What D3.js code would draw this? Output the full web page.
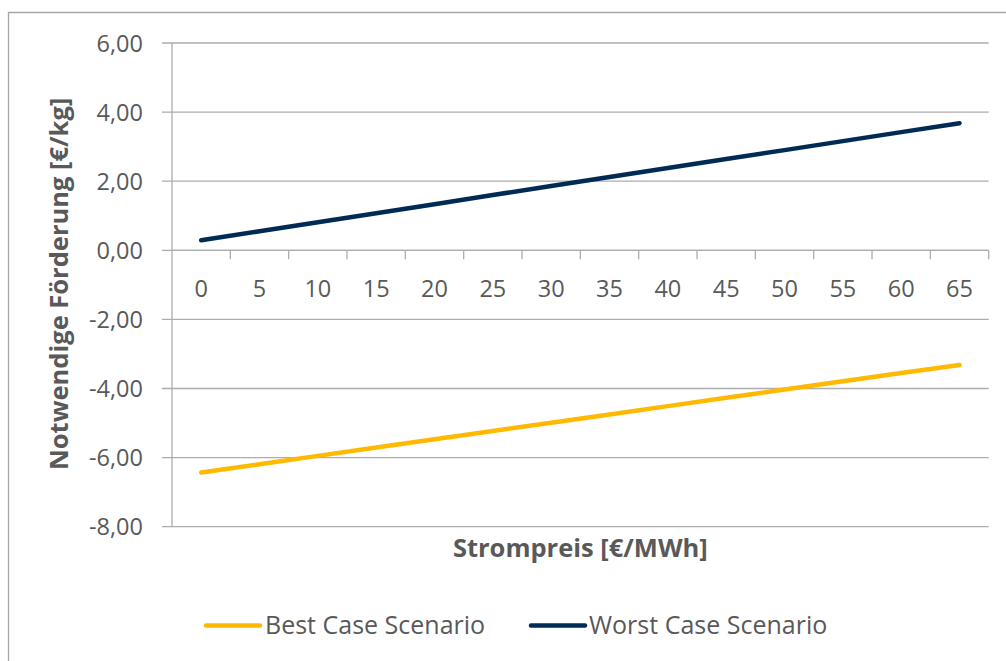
<!DOCTYPE html>
<html>
<head>
<meta charset="utf-8">
<script src="https://cdn.jsdelivr.net/npm/d3@7"></script>
<style>
  html, body { margin: 0; padding: 0; background: #fff; }
  svg { display: block; font-family: "Open Sans", "Noto Sans", sans-serif; }
</style>
</head>
<body>
<svg id="chart" width="1006" height="661"></svg>
<script>
const categories = ["0","5","10","15","20","25","30","35","40","45","50","55","60","65"];
const bestCase  = [-6.43, -6.19, -5.95, -5.71, -5.47, -5.23, -4.99, -4.75, -4.51, -4.27, -4.03, -3.79, -3.55, -3.32];
const worstCase = [0.29, 0.55, 0.81, 1.07, 1.33, 1.60, 1.86, 2.12, 2.38, 2.64, 2.90, 3.16, 3.42, 3.68];
const yTicks = [6, 4, 2, 0, -2, -4, -6, -8];
const seriesNames = ["Best Case Scenario", "Worst Case Scenario"];
const seriesColors = ["#FFB900", "#002B54"];

const svg = d3.select("#chart");
const W = 1006, H = 661;
const pL = 172, pR = 988.7, pT = 43, pB = 526.7;
const textColor = "#595959";
const gridColor = "#ADADAD";
const fsReg = 23.5, fsBold = 25.5, fsLegend = 25;

// outer border
svg.append("path")
  .attr("d", `M8.5,${H + 2} L8.5,12.5 L${W + 2},12.5`)
  .attr("fill", "none").attr("stroke", "#A6A6A6").attr("stroke-width", 1.3);

const x = d3.scaleBand().domain(categories).range([pL, pR]).padding(0);
const y = d3.scaleLinear().domain([-8, 6]).range([pB, pT]);

// gridlines
svg.append("g").selectAll("line").data(yTicks).join("line")
  .attr("x1", pL - 10).attr("x2", pR)
  .attr("y1", d => y(d)).attr("y2", d => y(d))
  .attr("stroke", gridColor).attr("stroke-width", 1.3);

// y axis line
svg.append("line").attr("x1", pL).attr("x2", pL).attr("y1", pT).attr("y2", pB)
  .attr("stroke", gridColor).attr("stroke-width", 1.3);

// y tick labels
const fmt = v => d3.format(".2f")(v).replace(".", ",").replace("−", "-");
svg.append("g").selectAll("text").data(yTicks).join("text")
  .attr("x", 143).attr("y", d => y(d) + 8.5)
  .attr("text-anchor", "end")
  .attr("font-size", fsReg).attr("fill", textColor)
  .text(d => fmt(d));

// x axis at 0
const xg = svg.append("g").attr("transform", `translate(0,${y(0)})`);
xg.append("line").attr("x1", pL).attr("x2", pR).attr("y1", 0).attr("y2", 0)
  .attr("stroke", gridColor).attr("stroke-width", 1.3);
// ticks between categories
const tickPos = categories.map(c => x(c) + x.bandwidth());
xg.selectAll("line.tk").data(tickPos).join("line").attr("class", "tk")
  .attr("x1", d => d).attr("x2", d => d).attr("y1", 0).attr("y2", 9)
  .attr("stroke", gridColor).attr("stroke-width", 1.3);
xg.selectAll("text.lbl").data(categories).join("text").attr("class", "lbl")
  .attr("x", d => x(d) + x.bandwidth() / 2).attr("y", 47)
  .attr("text-anchor", "middle").attr("font-size", fsReg).attr("fill", textColor)
  .text(d => d);

// lines
const line = d3.line()
  .x((d, i) => x(categories[i]) + x.bandwidth() / 2)
  .y(d => y(d));
[bestCase, worstCase].forEach((s, i) => {
  svg.append("path").datum(s)
    .attr("d", line)
    .attr("fill", "none").attr("stroke", seriesColors[i])
    .attr("stroke-width", 4.5).attr("stroke-linecap", "round").attr("stroke-linejoin", "round");
});

// axis titles
svg.append("text")
  .attr("transform", `translate(68,${(pT + pB) / 2 - 1}) rotate(-90)`)
  .attr("text-anchor", "middle").attr("font-size", fsBold).attr("font-weight", "bold")
  .attr("fill", textColor)
  .text("Notwendige Förderung [€/kg]");

svg.append("text")
  .attr("x", (pL + pR) / 2).attr("y", 557)
  .attr("text-anchor", "middle").attr("font-size", fsBold).attr("font-weight", "bold")
  .attr("fill", textColor)
  .text("Strompreis [€/MWh]");

// legend
const legendY = 625.5;
const legendItems = [{x0: 206, tx: 265}, {x0: 531, tx: 589}];
legendItems.forEach((it, i) => {
  svg.append("line").attr("x1", it.x0).attr("x2", it.x0 + 54)
    .attr("y1", legendY).attr("y2", legendY)
    .attr("stroke", seriesColors[i]).attr("stroke-width", 4.5).attr("stroke-linecap", "round");
  svg.append("text").attr("x", it.tx).attr("y", 634)
    .attr("font-size", fsLegend).attr("fill", textColor).text(seriesNames[i]);
});
</script>
</body>
</html>
